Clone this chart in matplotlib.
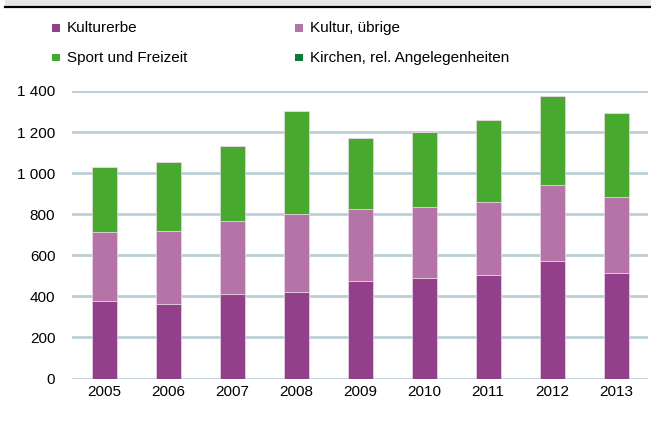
import matplotlib
matplotlib.use("Agg")
import matplotlib.pyplot as plt
from matplotlib.patches import Rectangle
from matplotlib.lines import Line2D
import numpy as np

years = ["2005", "2006", "2007", "2008", "2009", "2010", "2011", "2012", "2013"]
kulturerbe = [378, 363, 411, 420, 474, 489, 503, 570, 513]
kultur_uebrige = [336, 353, 354, 379, 349, 347, 358, 372, 372]
sport_freizeit = [314, 336, 368, 503, 346, 366, 398, 432, 406]
kirchen = [0, 0, 0, 0, 0, 0, 0, 0, 0]

series_names = ["Kulturerbe", "Kultur, übrige", "Sport und Freizeit", "Kirchen, rel. Angelegenheiten"]
colors = ["#93408b", "#b574a8", "#47a92d", "#0f7a35"]
yticks = [0, 200, 400, 600, 800, 1000, 1200, 1400]
ytick_labels = ["0", "200", "400", "600", "800", "1 000", "1 200", "1 400"]

plt.rcParams['font.family'] = ['Liberation Sans', 'DejaVu Sans']
fs = 11.0

W, H = 651, 421
fig = plt.figure(figsize=(W / 100, H / 100), dpi=100)

# top band and rule
fig.add_artist(Rectangle((5 / W, 1 - 6.5 / H), 1, 6.5 / H, transform=fig.transFigure,
                         facecolor="#e6e6e6", edgecolor="none"))
fig.add_artist(Line2D([5 / W, 1], [1 - 7.3 / H, 1 - 7.3 / H], transform=fig.transFigure,
                      color="black", lw=1.6))

left, right = 72 / W, 648 / W
bottom, top = 1 - 378.5 / H, 1 - 91 / H
ax = fig.add_axes([left, bottom, right - left, top - bottom])

x = np.arange(len(years))
bw = 25 / 64
bot = np.zeros(len(years))
for vals, c in zip([kulturerbe, kultur_uebrige, sport_freizeit, kirchen], colors):
    v = np.array(vals, dtype=float)
    ax.bar(x, v, bw, bottom=bot, color=c, edgecolor="#e9d7e6", linewidth=0.5, zorder=3)
    bot += v

ax.set_xlim(-0.5, len(years) - 0.5)
ax.set_ylim(0, 1400)
ax.set_yticks(yticks)
ax.set_yticklabels(ytick_labels)
ax.set_xticks(x)
ax.set_xticklabels(years)
ax.tick_params(axis='both', length=0, labelsize=fs, colors="black")
ax.tick_params(axis='y', pad=12)
ax.tick_params(axis='x', pad=5)
ax.grid(axis='y', color="#bccfd8", lw=2.0, zorder=0)
ax.set_axisbelow(True)
for s in ax.spines.values():
    s.set_visible(False)
ax.set_facecolor("none")

# legend
pos = [(52, 28), (295, 28), (52, 58), (295, 58)]
for (px, py), name, c in zip(pos, series_names, colors):
    fig.add_artist(Rectangle((px / W, 1 - (py + 3.5) / H), 7.5 / W, 7.5 / H,
                             transform=fig.transFigure, facecolor=c, edgecolor="none"))
    fig.text((px + 15) / W, 1 - py / H, name, fontsize=fs, va="center", ha="left")

fig.savefig("out.png", dpi=100)
